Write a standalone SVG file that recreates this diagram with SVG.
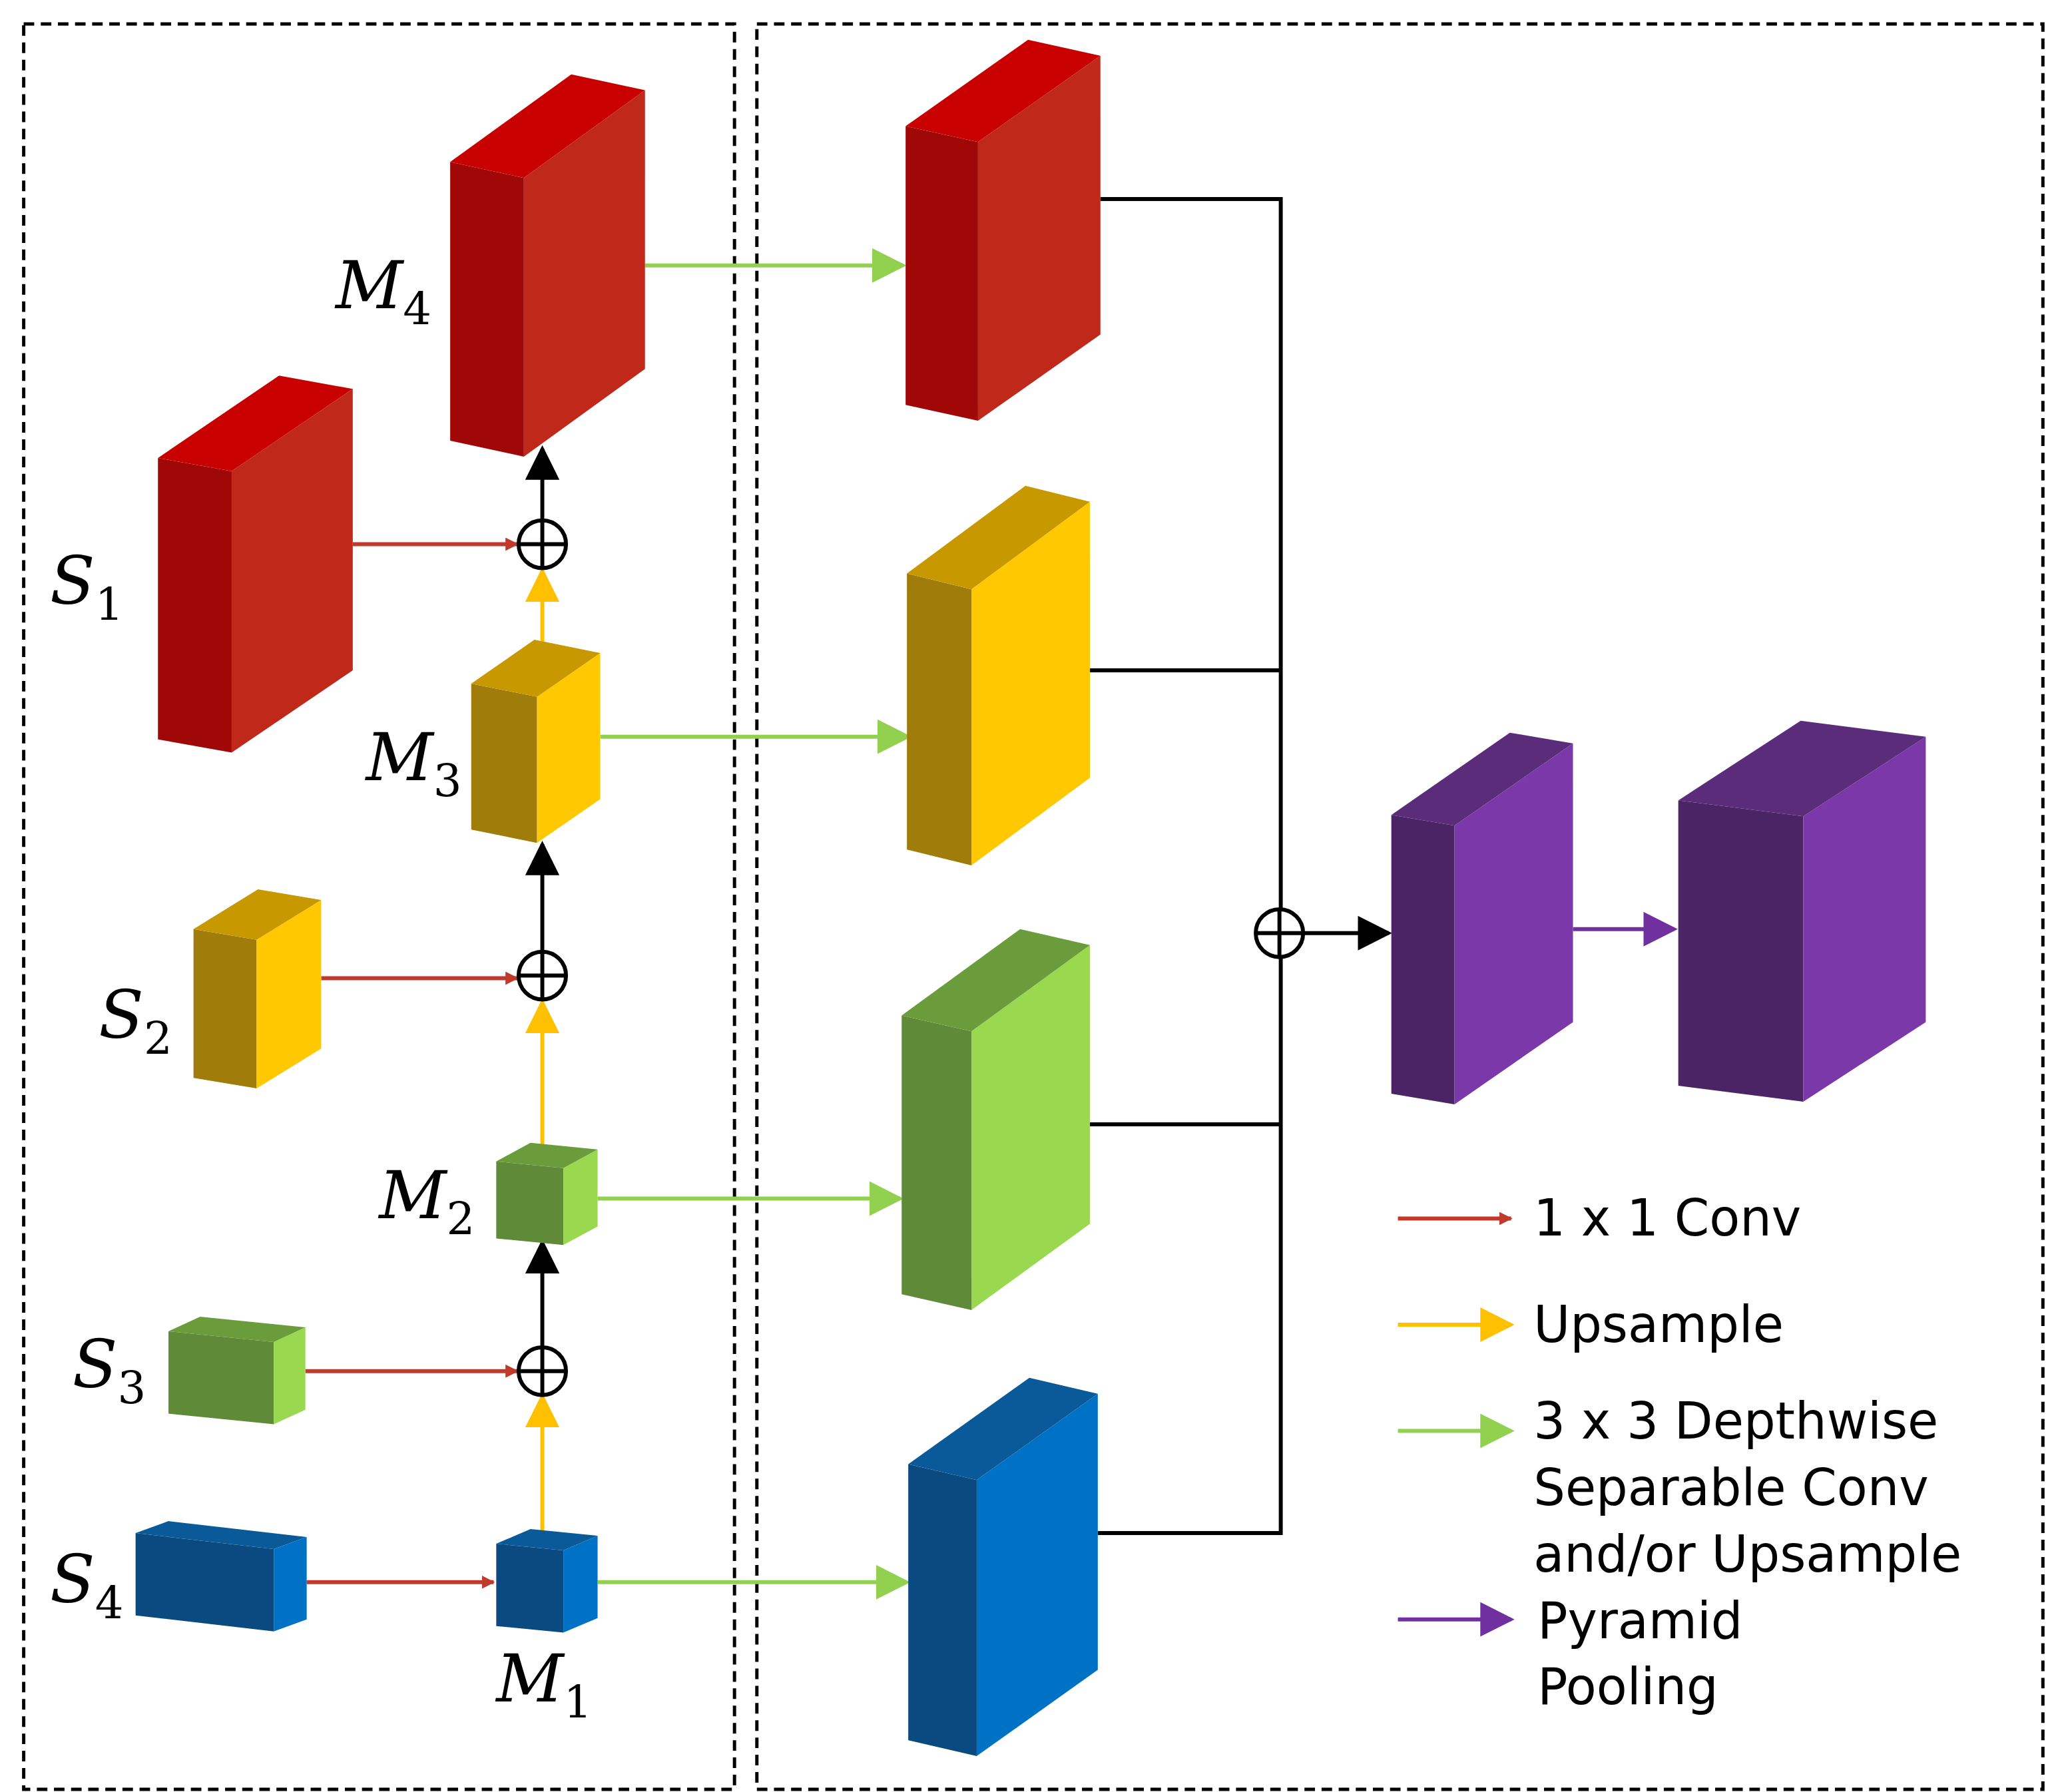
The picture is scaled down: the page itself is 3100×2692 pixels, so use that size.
<svg xmlns="http://www.w3.org/2000/svg" width="3100" height="2692" viewBox="0 0 3100 2692">
<style>
.frame{fill:none;stroke:#000;stroke-width:2.5;stroke-dasharray:8,5}
.lbl{font-family:"DejaVu Serif","Liberation Serif",serif;font-style:italic;font-size:50px;fill:#000}
.sub{font-size:34px;font-style:normal}
.leg{font-family:"DejaVu Sans","Liberation Sans",sans-serif;font-size:38px;fill:#000}
.red{stroke:#c0392b;stroke-width:3;fill:none;marker-end:url(#ar)}
.yel{stroke:#ffc000;stroke-width:3;fill:none;marker-end:url(#ay)}
.grn{stroke:#92d050;stroke-width:3;fill:none;marker-end:url(#ag)}
.pur{stroke:#7030a0;stroke-width:3;fill:none;marker-end:url(#ap)}
.blk{stroke:#000;stroke-width:3;fill:none}
.blka{stroke:#000;stroke-width:3;fill:none;marker-end:url(#ak)}
.plus{fill:#fff;stroke:#000;stroke-width:3}
</style>
<defs>
<marker id="ar" markerWidth="10" markerHeight="10" refX="9" refY="5" orient="auto" markerUnits="userSpaceOnUse" viewBox="0 0 10 10" ><path d="M0,0 L10,5 L0,10z" fill="#c0392b"/></marker>
<marker id="ay" viewBox="0 0 10 10" markerWidth="26" markerHeight="26" refX="9" refY="5" orient="auto" markerUnits="userSpaceOnUse"><path d="M0,0 L10,5 L0,10z" fill="#ffc000"/></marker>
<marker id="ag" viewBox="0 0 10 10" markerWidth="26" markerHeight="26" refX="9" refY="5" orient="auto" markerUnits="userSpaceOnUse"><path d="M0,0 L10,5 L0,10z" fill="#92d050"/></marker>
<marker id="ap" viewBox="0 0 10 10" markerWidth="26" markerHeight="26" refX="9" refY="5" orient="auto" markerUnits="userSpaceOnUse"><path d="M0,0 L10,5 L0,10z" fill="#7030a0"/></marker>
<marker id="ak" viewBox="0 0 10 10" markerWidth="26" markerHeight="26" refX="9" refY="5" orient="auto" markerUnits="userSpaceOnUse"><path d="M0,0 L10,5 L0,10z" fill="#000"/></marker>
</defs>
<rect width="3100" height="2692" fill="#fff"/>
<g transform="scale(1.977,1.994)">
<rect class="frame" x="18" y="18" width="540" height="1330"/>
<rect class="frame" x="575" y="18" width="977" height="1330"/>
<g id="connectors">
<path class="red" d="M268,410 H393"/>
<path class="red" d="M244,737 H393"/>
<path class="red" d="M232,1033 H393"/>
<path class="red" d="M233,1192 H375"/>
<path class="blka" d="M412,392 V338"/>
<path class="blka" d="M412,717 V636"/>
<path class="blka" d="M412,1015 V936"/>
<path class="yel" d="M412,490 V430"/>
<path class="yel" d="M412,868 V755"/>
<path class="yel" d="M412,1157 V1052"/>
<path class="grn" d="M490,200 H686"/>
<path class="grn" d="M456,555 H690"/>
<path class="grn" d="M454,903 H684"/>
<path class="grn" d="M454,1192 H689"/>
<path class="blk" d="M836,150 H973 V1155 H834 M828,505 H973 M828,847 H973"/>
<path class="blka" d="M990,703 H1055"/>
<path class="pur" d="M1195,700 H1272"/>
<path class="red" d="M1062,918 H1148"/>
<path class="yel" d="M1062,998 H1148"/>
<path class="grn" d="M1062,1078 H1148"/>
<path class="pur" d="M1062,1220 H1148"/>
<g id="plus1"><circle class="plus" cx="412" cy="410" r="18"/><path class="blk" d="M394,410 H430 M412,392 V428"/></g>
<g id="plus2"><circle class="plus" cx="412" cy="735" r="18"/><path class="blk" d="M394,735 H430 M412,717 V753"/></g>
<g id="plus3"><circle class="plus" cx="412" cy="1033" r="18"/><path class="blk" d="M394,1033 H430 M412,1015 V1051"/></g>
<g id="plus4"><circle class="plus" cx="972" cy="703" r="18"/><path class="blk" d="M954,703 H990 M972,685 V721"/></g>
</g>
<!-- boxes: left, right, top -->
<g id="M4"><polygon points="342,122 398,134 398,344 342,332" fill="#a00808"/><polygon points="398,134 490,68 490,278 398,344" fill="#c0281a"/><polygon points="342,122 434,56 490,68 398,134" fill="#c80000"/></g>
<g id="S1"><polygon points="120,345 176,355 176,567 120,557" fill="#a00808"/><polygon points="176,355 268,293 268,505 176,567" fill="#c0281a"/><polygon points="120,345 212,283 268,293 176,355" fill="#c80000"/></g>
<g id="M3"><polygon points="358,515 408,525 408,635 358,625" fill="#a07c0a"/><polygon points="408,525 456,492 456,602 408,635" fill="#ffc800"/><polygon points="358,515 406,482 456,492 408,525" fill="#c89800"/></g>
<g id="S2"><polygon points="147,700 195,708 195,820 147,812" fill="#a07c0a"/><polygon points="195,708 244,678 244,790 195,820" fill="#ffc800"/><polygon points="147,700 196,670 244,678 195,708" fill="#c89800"/></g>
<g id="M2"><polygon points="377,875 428,880 428,938 377,933" fill="#5f8a38"/><polygon points="428,880 454,866 454,924 428,938" fill="#9ad850"/><polygon points="377,875 403,861 454,866 428,880" fill="#6a9c3c"/></g>
<g id="S3"><polygon points="128,1003 208,1011 208,1073 128,1065" fill="#5f8a38"/><polygon points="208,1011 232,1000 232,1062 208,1073" fill="#9ad850"/><polygon points="128,1003 152,992 232,1000 208,1011" fill="#6a9c3c"/></g>
<g id="S4"><polygon points="103,1155 208,1167 208,1229 103,1217" fill="#0a4a80"/><polygon points="208,1167 233,1158 233,1220 208,1229" fill="#0072c6"/><polygon points="103,1155 128,1146 233,1158 208,1167" fill="#0a5a9a"/></g>
<g id="M1"><polygon points="377,1163 428,1168 428,1230 377,1225" fill="#0a4a80"/><polygon points="428,1168 454,1157 454,1219 428,1230" fill="#0072c6"/><polygon points="377,1163 403,1152 454,1157 428,1168" fill="#0a5a9a"/></g>
<g id="R4"><polygon points="688,95 743,107 743,317 688,305" fill="#a00808"/><polygon points="743,107 836,42 836,252 743,317" fill="#c0281a"/><polygon points="688,95 781,30 836,42 743,107" fill="#c80000"/></g>
<g id="R3"><polygon points="689,432 738,444 738,652 689,640" fill="#a07c0a"/><polygon points="738,444 828,378 828,586 738,652" fill="#ffc800"/><polygon points="689,432 779,366 828,378 738,444" fill="#c89800"/></g>
<g id="R2"><polygon points="685,765 738,777 738,987 685,975" fill="#5f8a38"/><polygon points="738,777 828,712 828,922 738,987" fill="#9ad850"/><polygon points="685,765 775,700 828,712 738,777" fill="#6a9c3c"/></g>
<g id="R1"><polygon points="690,1103 742,1115 742,1323 690,1311" fill="#0a4a80"/><polygon points="742,1115 834,1050 834,1258 742,1323" fill="#0072c6"/><polygon points="690,1103 782,1038 834,1050 742,1115" fill="#0a5a9a"/></g>
<g id="P1"><polygon points="1057,614 1105,622 1105,832 1057,824" fill="#4a2464"/><polygon points="1105,622 1195,560 1195,770 1105,832" fill="#7a38a8"/><polygon points="1057,614 1147,552 1195,560 1105,622" fill="#5a2c7a"/></g>
<g id="P2"><polygon points="1275,603 1370,615 1370,830 1275,818" fill="#4a2464"/><polygon points="1370,615 1463,555 1463,770 1370,830" fill="#7a38a8"/><polygon points="1275,603 1368,543 1463,555 1370,615" fill="#5a2c7a"/></g>
<g id="labels">
<text class="lbl" x="255" y="232">M<tspan class="sub" dy="12">4</tspan></text>
<text class="lbl" x="38" y="455">S<tspan class="sub" dy="12">1</tspan></text>
<text class="lbl" x="278" y="588">M<tspan class="sub" dy="12">3</tspan></text>
<text class="lbl" x="75" y="782">S<tspan class="sub" dy="12">2</tspan></text>
<text class="lbl" x="288" y="918">M<tspan class="sub" dy="12">2</tspan></text>
<text class="lbl" x="55" y="1045">S<tspan class="sub" dy="12">3</tspan></text>
<text class="lbl" x="38" y="1207">S<tspan class="sub" dy="12">4</tspan></text>
<text class="lbl" x="377" y="1282">M<tspan class="sub" dy="12">1</tspan></text>
</g>
<g id="legend">
<text class="leg" x="1165" y="931">1 x 1 Conv</text>
<text class="leg" x="1165" y="1011">Upsample</text>
<text class="leg" x="1165" y="1084">3 x 3 Depthwise</text>
<text class="leg" x="1165" y="1134">Separable Conv</text>
<text class="leg" x="1165" y="1184">and/or Upsample</text>
<text class="leg" x="1168" y="1234">Pyramid</text>
<text class="leg" x="1168" y="1284">Pooling</text>
</g>
</g>
</svg>
